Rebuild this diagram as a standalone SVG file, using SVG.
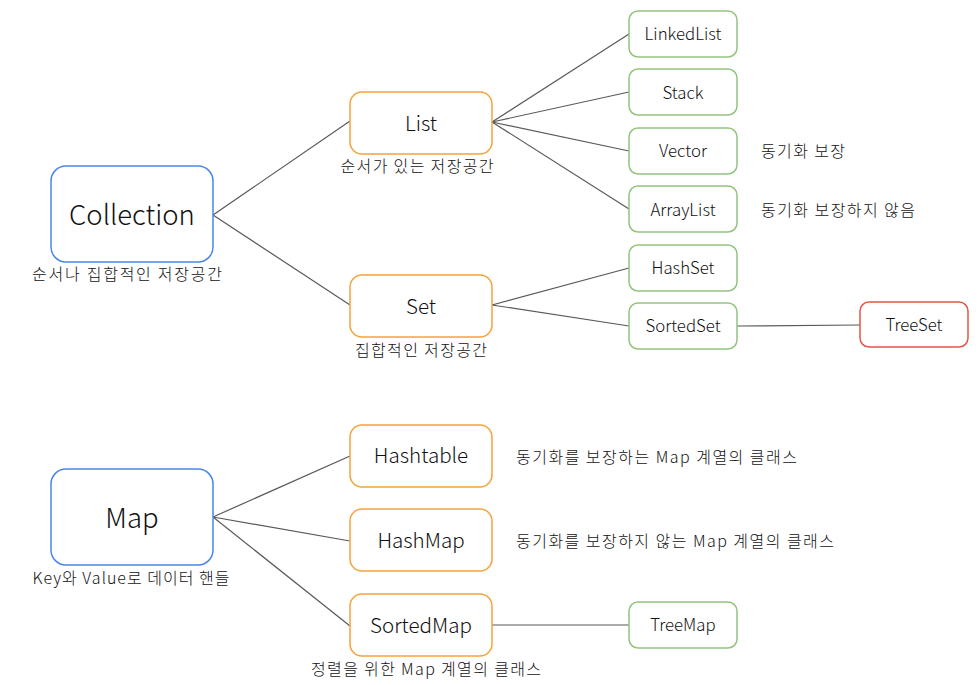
<svg xmlns="http://www.w3.org/2000/svg" width="980" height="685" viewBox="0 0 980 685">
<style>
text{font-family:"Noto Sans CJK KR","Liberation Sans",sans-serif;fill:#111;font-weight:300;}
.b{fill:#fff;stroke:#4a86e8;stroke-width:1.5;}
.o{fill:#fff;stroke:#f6a23c;stroke-width:1.5;}
.g{fill:#fff;stroke:#93c47d;stroke-width:1.5;}
.r{fill:#fff;stroke:#e0584a;stroke-width:1.5;}
.big{font-size:27.5px;text-anchor:middle;}
.mid{font-size:20.6px;text-anchor:middle;}
.sm{font-size:16.8px;text-anchor:middle;}
.cap{font-size:16px;text-anchor:middle;}
.note{font-size:16px;}
#edges line{stroke:#595959;stroke-width:1.2;}
</style>
<rect width="980" height="685" fill="#fff"/>
<g id="edges">
<line x1="213" y1="215" x2="350" y2="121"/>
<line x1="213" y1="215" x2="350" y2="305"/>
<line x1="492" y1="122" x2="629" y2="34"/>
<line x1="492" y1="122" x2="629" y2="92"/>
<line x1="492" y1="122" x2="629" y2="151"/>
<line x1="492" y1="122" x2="629" y2="209"/>
<line x1="492" y1="305" x2="629" y2="268"/>
<line x1="492" y1="305" x2="629" y2="326"/>
<line x1="737" y1="326" x2="860" y2="325"/>
<line x1="213" y1="517" x2="350" y2="456"/>
<line x1="213" y1="517" x2="350" y2="541"/>
<line x1="213" y1="517" x2="350" y2="626"/>
<line x1="492" y1="625" x2="629" y2="625"/>
</g>
<g id="collection"><rect class="b" x="51" y="166" width="162" height="96" rx="15"/><text class="big" x="132" y="225">Collection</text><text class="cap" x="127" y="280" textLength="190" lengthAdjust="spacing">순서나 집합적인 저장공간</text></g>
<g id="list"><rect class="o" x="350" y="92" width="142" height="62" rx="12"/><text class="mid" x="421" y="131">List</text><text class="cap" x="417" y="172" textLength="153" lengthAdjust="spacing">순서가 있는 저장공간</text></g>
<g id="set"><rect class="o" x="350" y="275" width="142" height="62" rx="12"/><text class="mid" x="421" y="314">Set</text><text class="cap" x="421" y="356" textLength="132" lengthAdjust="spacing">집합적인 저장공간</text></g>
<g id="linkedlist"><rect class="g" x="629" y="11" width="108" height="46" rx="9"/><text class="sm" x="683" y="40">LinkedList</text></g>
<g id="stack"><rect class="g" x="629" y="69" width="108" height="46" rx="9"/><text class="sm" x="683" y="99">Stack</text></g>
<g id="vector"><rect class="g" x="629" y="128" width="108" height="46" rx="9"/><text class="sm" x="683" y="157">Vector</text><text class="note" x="761" y="157" textLength="84" lengthAdjust="spacing">동기화 보장</text></g>
<g id="arraylist"><rect class="g" x="629" y="186" width="108" height="46" rx="9"/><text class="sm" x="683" y="216">ArrayList</text><text class="note" x="761" y="216" textLength="154" lengthAdjust="spacing">동기화 보장하지 않음</text></g>
<g id="hashset"><rect class="g" x="629" y="245" width="108" height="46" rx="9"/><text class="sm" x="683" y="274">HashSet</text></g>
<g id="sortedset"><rect class="g" x="629" y="303" width="108" height="46" rx="9"/><text class="sm" x="683" y="332">SortedSet</text></g>
<g id="treeset"><rect class="r" x="860" y="302" width="108" height="45" rx="9"/><text class="sm" x="914" y="331">TreeSet</text></g>
<g id="map"><rect class="b" x="51" y="469" width="162" height="96" rx="15"/><text class="big" x="132" y="528">Map</text><text class="cap" x="131" y="584" textLength="197" lengthAdjust="spacing">Key와 Value로 데이터 핸들</text></g>
<g id="hashtable"><rect class="o" x="350" y="425" width="142" height="62" rx="12"/><text class="mid" x="421" y="463">Hashtable</text><text class="note" x="516" y="463" textLength="281" lengthAdjust="spacing">동기화를 보장하는 Map 계열의 클래스</text></g>
<g id="hashmap"><rect class="o" x="350" y="509" width="142" height="62" rx="12"/><text class="mid" x="421" y="548">HashMap</text><text class="note" x="516" y="547" textLength="318" lengthAdjust="spacing">동기화를 보장하지 않는 Map 계열의 클래스</text></g>
<g id="sortedmap"><rect class="o" x="350" y="594" width="142" height="62" rx="12"/><text class="mid" x="421" y="633">SortedMap</text><text class="cap" x="426" y="675" textLength="230" lengthAdjust="spacing">정렬을 위한 Map 계열의 클래스</text></g>
<g id="treemap"><rect class="g" x="629" y="602" width="108" height="46" rx="9"/><text class="sm" x="683" y="631">TreeMap</text></g>
</svg>
